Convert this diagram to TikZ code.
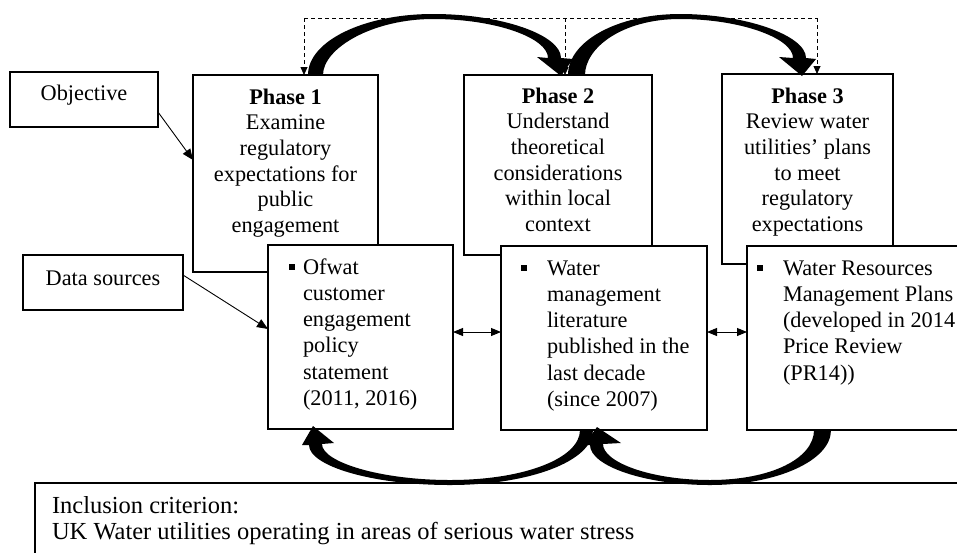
\documentclass[tikz,border=0pt]{standalone}
\usepackage{fontspec}
\setmainfont{Liberation Serif}
\usetikzlibrary{arrows.meta}
\newcommand\phasefont{\fontsize{22.3}{25.7}\selectfont}
\newcommand\datafont{\fontsize{22.3}{26.3}\selectfont}
\newcommand\incfont{\fontsize{24.5}{26}\selectfont}
\newcommand\bul{\rule[4.5pt]{5.5pt}{5.5pt}}
\begin{document}
\begin{tikzpicture}[x=1pt,y=-1pt,
  box/.style={draw, line width=1.7pt, fill=white, inner sep=0pt, outer sep=0pt, anchor=north west},
  txt/.style={inner sep=0pt, outer sep=0pt},
  conn/.style={line width=0.9pt, -{Triangle[length=11pt,width=9pt]}},
  dbl/.style={line width=0.9pt, {Triangle[length=10pt,width=8pt]}-{Triangle[length=10pt,width=8pt]}},
  dline/.style={line width=0.8pt, dash pattern=on 4pt off 3pt},
  darrow/.style={dline, -{Triangle[length=8pt,width=7pt]}}]
\useasboundingbox (0,0) rectangle (957,552);
\clip (0,0) rectangle (957,552);

% phase boxes
\node[box, minimum width=185pt, minimum height=197pt] (p1) at (193,75) {};
\node[box, minimum width=188pt, minimum height=180pt] (p2) at (464,75) {};
\node[box, minimum width=171pt, minimum height=190pt] (p3) at (722,74) {};

\node[txt, anchor=north, align=center, font=\phasefont] (t1) at (285.5,86)
  {\rule{0pt}{18pt}\textbf{Phase 1}\\ Examine\\ regulatory\\ expectations for\\ public\\ engagement};
\node[txt, anchor=north, align=center, font=\phasefont] (t2) at (558,85)
  {\rule{0pt}{18pt}\textbf{Phase 2}\\ Understand\\ theoretical\\ considerations\\ within local\\ context};
\node[txt, anchor=north, align=center, font=\phasefont] (t3) at (807.5,85)
  {\rule{0pt}{18pt}\textbf{Phase 3}\\ Review water\\ utilities’ plans\\ to meet\\ regulatory\\ expectations};

% dashed feedback lines
\coordinate (dl) at (304,18);
\coordinate (dm) at (565,18);
\coordinate (dr) at (817,18);
\draw[dline] (dl) -- (dr);
\draw[darrow] (dl) -- (dl |- p1.north);
\draw[darrow] (dm) -- (dm |- p2.north);
\draw[darrow] (dr) -- (dr |- p3.north);

% thick top arrows
\fill (308,75) .. controls (308,41) and (364,14) .. (433,14) .. controls (502,14) and (561,35) .. (561,58)
  -- (573,59) -- (561,76) -- (537,57) -- (548,58)
  .. controls (548,38) and (496,19) .. (433,19) .. controls (373,19) and (323,48) .. (323,75) -- cycle;
\fill (568,75) .. controls (568,41) and (618,14) .. (680,14) .. controls (744,14) and (806,35) .. (806,58)
  -- (816,59) -- (802,76) -- (779,57) -- (793,58)
  .. controls (793,38) and (740,19) .. (680,19) .. controls (622,19) and (585,48) .. (585,75) -- cycle;

% left boxes
\node[box, minimum width=148pt, minimum height=55pt] (obj) at (10,72) {};
\node[txt, anchor=base, font=\phasefont] (objt) at (84,100) {Objective};
\node[box, minimum width=160pt, minimum height=55pt] (ds) at (23,255) {};
\node[txt, anchor=base, font=\phasefont] (dst) at (103,285) {Data sources};

% data boxes
\node[box, minimum width=185pt, minimum height=184pt] (d1) at (268,245) {};
\node[box, minimum width=206pt, minimum height=184pt] (d2) at (501,246) {};
\node[box, minimum width=240pt, minimum height=184pt] (d3) at (747,246) {};

\node[txt, anchor=north west, font=\datafont] (d1t) at (289,255.6)
  {\begin{tabular}{@{}p{14pt}@{}l@{}}\bul & Ofwat\\ & customer\\ & engagement\\ & policy\\ & statement\\ & (2011, 2016)\end{tabular}};
\node[txt, anchor=north west, font=\datafont] (d2t) at (521,256.6)
  {\begin{tabular}{@{}p{26pt}@{}l@{}}\bul & Water\\ & management\\ & literature\\ & published in the\\ & last decade\\ & (since 2007)\end{tabular}};
\node[txt, anchor=north west, font=\datafont] (d3t) at (757,256.6)
  {\begin{tabular}{@{}p{26pt}@{}l@{}}\bul & Water Resources\\ & Management Plans\\ & (developed in 2014\\ & Price Review\\ & (PR14))\end{tabular}};

% connectors
\coordinate (oa) at ([yshift=-12.5pt]obj.east);
\coordinate (ob) at ([yshift=13.5pt]p1.west);
\draw[conn] (oa) -- (ob);
\coordinate (da) at ([yshift=7.5pt]ds.east);
\coordinate (db) at ([yshift=8pt]d1.west);
\draw[conn] (da) -- (db);
\coordinate (e1) at ([yshift=5pt]d1.east);
\coordinate (e2) at ([yshift=6pt]d2.east);
\draw[dbl] (e1) -- (e1 -| d2.west);
\draw[dbl] (e2) -- (e2 -| d3.west);

% inclusion box
\node[box, line width=1.3pt, minimum width=940pt, minimum height=100pt] (inc) at (35,483) {};
\node[txt, anchor=north west, align=left, font=\incfont] (inct) at (52,495)
  {\rule{0pt}{18pt}Inclusion criterion:\\ UK Water utilities operating in areas of serious water stress};

% thick bottom arrows
\fill (593,430) .. controls (593,461) and (530,485) .. (450,485) .. controls (372,485) and (309,466) .. (309,445)
  -- (302,445) -- (313,426) -- (334,443) -- (322,444)
  .. controls (322,462) and (380,480) .. (450,480) .. controls (525,480) and (580,458) .. (580,430) -- cycle;
\fill (831,430) .. controls (831,461) and (776,485) .. (710,485) .. controls (645,485) and (590,466) .. (590,445)
  -- (584,445) -- (597,427) -- (621,443) -- (603,444)
  .. controls (603,462) and (650,480) .. (710,480) .. controls (772,480) and (814,458) .. (814,430) -- cycle;
\end{tikzpicture}
\end{document}
